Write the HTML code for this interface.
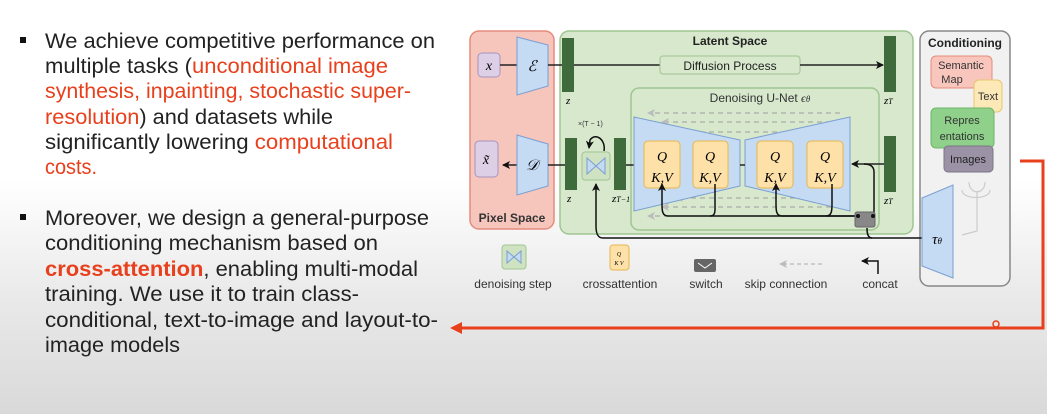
<!DOCTYPE html>
<html><head><meta charset="utf-8"><style>
html,body{margin:0;padding:0;}
body{width:1047px;height:414px;overflow:hidden;background:linear-gradient(#ffffff 0px,#ffffff 180px,#e9e9e9 300px,#d9d9d9 414px);}
svg{display:block;font-family:"Liberation Sans",sans-serif;}
.t{font-size:21px;fill:#222;}
.r{fill:#e8401c;}
.m{font-family:"Liberation Serif",serif;font-style:italic;}
</style></head><body>
<svg width="1047" height="414" viewBox="0 0 1047 414" xmlns="http://www.w3.org/2000/svg">
<defs>
<marker id="ah" markerWidth="8" markerHeight="8" refX="7" refY="4" orient="auto" markerUnits="userSpaceOnUse"><path d="M0,0 L8,4 L0,8 L2,4z" fill="#111"/></marker>
<marker id="ag" markerWidth="8" markerHeight="8" refX="7" refY="4" orient="auto" markerUnits="userSpaceOnUse"><path d="M0,0 L8,4 L0,8 L2,4z" fill="#bbb"/></marker>
</defs>
<rect x="20" y="37" width="6" height="6" fill="#111"/>
<rect x="20" y="214" width="6" height="6" fill="#111"/>
<g class="t">
<text x="45" y="48" textLength="390" lengthAdjust="spacingAndGlyphs">We achieve competitive performance on</text>
<text x="45" y="73" textLength="343" lengthAdjust="spacingAndGlyphs">multiple tasks (<tspan class="r">unconditional image</tspan></text>
<text x="45" y="98" textLength="366" lengthAdjust="spacingAndGlyphs" class="r">synthesis, inpainting, stochastic super-</text>
<text x="45" y="124" textLength="288" lengthAdjust="spacingAndGlyphs"><tspan class="r">resolution</tspan>) and datasets while</text>
<text x="45" y="149" textLength="348" lengthAdjust="spacingAndGlyphs">significantly lowering <tspan class="r">computational</tspan></text>
<text x="45" y="174" textLength="52" lengthAdjust="spacingAndGlyphs" class="r">costs.</text>
<text x="45" y="225" textLength="384" lengthAdjust="spacingAndGlyphs">Moreover, we design a general-purpose</text>
<text x="45" y="250" textLength="333" lengthAdjust="spacingAndGlyphs">conditioning mechanism based on</text>
<text x="45" y="276" textLength="373" lengthAdjust="spacingAndGlyphs"><tspan class="r" font-weight="bold">cross-attention</tspan>, enabling multi-modal</text>
<text x="45" y="301" textLength="314" lengthAdjust="spacingAndGlyphs">training. We use it to train class-</text>
<text x="45" y="327" textLength="393" lengthAdjust="spacingAndGlyphs">conditional, text-to-image and layout-to-</text>
<text x="45" y="352" textLength="135" lengthAdjust="spacingAndGlyphs">image models</text>
</g>
<rect x="470" y="31" width="84" height="198" rx="9" fill="#f6c5bc" stroke="#e58c7c" stroke-width="1.5"/>
<text x="512" y="222" font-size="12" font-weight="bold" text-anchor="middle" fill="#333">Pixel Space</text>
<rect x="560" y="31" width="353" height="203" rx="9" fill="#d7e8cd" stroke="#9fc591" stroke-width="1.5"/>
<text x="730" y="45" font-size="12" font-weight="bold" text-anchor="middle" fill="#222">Latent Space</text>
<rect x="920" y="31" width="90" height="255" rx="9" fill="#f1f1f1" stroke="#888" stroke-width="1.5"/>
<text x="965" y="47" font-size="12" font-weight="bold" text-anchor="middle" fill="#222">Conditioning</text>
<rect x="631" y="88" width="248" height="142" rx="8" fill="#d7e8cd" stroke="#9fc591" stroke-width="1.5"/>
<text x="760" y="102" font-size="12" text-anchor="middle" fill="#333">Denoising U-Net <tspan class="m">ϵ</tspan><tspan class="m" font-size="9">θ</tspan></text>
<rect x="478" y="53" width="22" height="24" rx="4" fill="#dccfe6" stroke="#a894be"/>
<text x="489" y="70" class="m" font-size="14" text-anchor="middle">x</text>
<line x1="500" y1="65" x2="517" y2="65" stroke="#222" stroke-width="1.5"/>
<path d="M517,37 L548,45 L548,86 L517,95z" fill="#c5daf3" stroke="#7a9fd0"/>
<text x="532" y="71" class="m" font-size="15" text-anchor="middle">ℰ</text>
<line x1="548" y1="65" x2="562" y2="65" stroke="#222" stroke-width="1.5"/>
<rect x="562" y="38" width="12" height="54" fill="#3e6a3c"/>
<text x="566" y="104" class="m" font-size="11">z</text>
<line x1="574" y1="65" x2="660" y2="65" stroke="#222" stroke-width="1.5"/>
<rect x="660" y="56" width="140" height="18" rx="3" fill="#d7e8cd" stroke="#9fc591"/>
<text x="730" y="70" font-size="12" text-anchor="middle" fill="#222">Diffusion Process</text>
<line x1="800" y1="65" x2="883" y2="65" stroke="#222" stroke-width="1.5" marker-end="url(#ah)"/>
<rect x="884" y="36" width="12" height="56" fill="#3e6a3c"/>
<text x="884" y="104" class="m" font-size="11">z<tspan font-size="8">T</tspan></text>
<rect x="475" y="141" width="23" height="36" rx="4" fill="#dccfe6" stroke="#a894be"/>
<text x="486" y="164" class="m" font-size="14" text-anchor="middle">x̃</text>
<line x1="517" y1="165" x2="503" y2="165" stroke="#222" stroke-width="1.5" marker-end="url(#ah)"/>
<path d="M517,135 L548,144 L548,186 L517,195z" fill="#c5daf3" stroke="#7a9fd0"/>
<text x="532" y="170" class="m" font-size="15" text-anchor="middle">𝒟</text>
<line x1="548" y1="165" x2="565" y2="165" stroke="#222" stroke-width="1.5"/>
<rect x="565" y="138" width="12" height="52" fill="#3e6a3c"/>
<text x="567" y="202" class="m" font-size="11">z</text>
<rect x="582" y="152" width="28" height="28" rx="3" fill="#cfe3c2" stroke="#9fc591"/>
<path d="M587,158 L596,166 L587,174z M605,158 L596,166 L605,174z" fill="#c5daf3" stroke="#7a9fd0"/>
<path d="M604,151 C606,140 596,132 590,140 L589,148" fill="none" stroke="#111" stroke-width="1.5" marker-end="url(#ah)"/>
<text x="578" y="126" font-size="7" fill="#333">×(T − 1)</text>
<rect x="614" y="138" width="12" height="52" fill="#3e6a3c"/>
<text x="612" y="202" class="m" font-size="11">z<tspan font-size="8">T−1</tspan></text>
<line x1="626" y1="165" x2="635" y2="165" stroke="#222" stroke-width="1.5"/>
<g stroke="#aaa" stroke-width="1.2" stroke-dasharray="5,4">
<line x1="840" y1="113" x2="648" y2="113" marker-end="url(#ag)"/>
<line x1="840" y1="122" x2="662" y2="122" marker-end="url(#ag)"/>
<line x1="840" y1="132" x2="676" y2="132" marker-end="url(#ag)"/>
<line x1="840" y1="198" x2="676" y2="198" marker-end="url(#ag)"/>
<line x1="840" y1="207" x2="662" y2="207" marker-end="url(#ag)"/>
<line x1="840" y1="216" x2="648" y2="216" marker-end="url(#ag)"/>
</g>
<path d="M634,117 L740,140 L740,186 L634,211z" fill="#c5daf3" stroke="#7a9fd0"/>
<path d="M745,140 L850,117 L850,211 L745,186z" fill="#c5daf3" stroke="#7a9fd0"/>
<line x1="740" y1="165" x2="745" y2="165" stroke="#222" stroke-width="1.5"/>
<g font-size="14" class="m" text-anchor="middle">
<rect x="644" y="141" width="36" height="47" rx="4" fill="#fde1a8" stroke="#e7b64e"/><text x="662" y="161">Q</text><text x="662" y="182">K,V</text>
<rect x="693" y="141" width="35" height="47" rx="4" fill="#fde1a8" stroke="#e7b64e"/><text x="710" y="161">Q</text><text x="710" y="182">K,V</text>
<rect x="757" y="141" width="36" height="47" rx="4" fill="#fde1a8" stroke="#e7b64e"/><text x="775" y="161">Q</text><text x="775" y="182">K,V</text>
<rect x="807" y="141" width="36" height="47" rx="4" fill="#fde1a8" stroke="#e7b64e"/><text x="825" y="161">Q</text><text x="825" y="182">K,V</text>
</g>
<rect x="884" y="136" width="12" height="56" fill="#3e6a3c"/>
<text x="884" y="204" class="m" font-size="11">z<tspan font-size="8">T</tspan></text>
<line x1="884" y1="164" x2="852" y2="164" stroke="#222" stroke-width="1.5" marker-end="url(#ah)"/>
<g fill="none" stroke="#111" stroke-width="1.5">
<path d="M858,216 L668,216 C662,216 662,210 662,204 L662,184" marker-end="url(#ah)"/>
<path d="M710,216 C716,216 715,210 715,204 L715,184"/>
<path d="M858,216 L782,216 C776,216 776,210 776,204 L776,184" marker-end="url(#ah)"/>
<path d="M826,216 C832,216 832,210 832,204 L832,184"/>
<path d="M874,216 L874,172 C874,166 870,164 864,164"/>
<path d="M922,238 L872,238 C868,238 867,234 867,228"/>
<path d="M872,238 L603,238 C597,238 596,232 596,226 L596,184" marker-end="url(#ah)"/>
</g>
<rect x="855" y="212" width="20" height="15" rx="2" fill="#888" stroke="#666"/>
<circle cx="858" cy="216" r="2" fill="#111"/><circle cx="873" cy="216" r="2" fill="#111"/>
<rect x="931" y="56" width="61" height="32" rx="5" fill="#f8c6bd" stroke="#e58c7c"/>
<text x="961" y="69" font-size="11" text-anchor="middle" fill="#333">Semantic</text>
<text x="952" y="83" font-size="11" text-anchor="middle" fill="#333">Map</text>
<rect x="974" y="80" width="28" height="32" rx="5" fill="#fde9b8" stroke="#e7c66e"/>
<text x="988" y="100" font-size="11" text-anchor="middle" fill="#333">Text</text>
<rect x="931" y="108" width="63" height="40" rx="5" fill="#8fd18a" stroke="#6fb46a"/>
<text x="962" y="124" font-size="11" text-anchor="middle" fill="#333">Repres</text>
<text x="962" y="140" font-size="11" text-anchor="middle" fill="#333">entations</text>
<rect x="944" y="146" width="49" height="26" rx="4" fill="#9b92a6" stroke="#7d7488"/>
<text x="968" y="163" font-size="11" text-anchor="middle" fill="#222">Images</text>
<path d="M969,182 C969,195 985,195 985,182 M977,192 L977,205 M962,190 C962,200 990,200 990,190 M977,205 L977,231 L962,235" fill="none" stroke="#ccc" stroke-width="1.2"/>
<path d="M922,198 L953,185 L953,278 L922,266z" fill="#c5daf3" stroke="#7a9fd0"/>
<text x="937" y="244" class="m" font-size="15" text-anchor="middle">τ<tspan font-size="9">θ</tspan></text>
<rect x="502" y="245" width="24" height="24" rx="3" fill="#cfe3c2" stroke="#9fc591"/>
<path d="M507,251 L514,257 L507,263z M521,251 L514,257 L521,263z" fill="#c5daf3" stroke="#7a9fd0"/>
<text x="513" y="288" font-size="12" text-anchor="middle" fill="#333">denoising step</text>
<rect x="610" y="245" width="19" height="25" rx="3" fill="#fde1a8" stroke="#e7b64e"/>
<text x="619" y="256" font-size="6" class="m" text-anchor="middle">Q</text><text x="619" y="265" font-size="6" class="m" text-anchor="middle">K V</text>
<text x="620" y="288" font-size="12" text-anchor="middle" fill="#333">crossattention</text>
<rect x="694" y="259" width="22" height="13" rx="2" fill="#666"/>
<path d="M698,263 L705,268 L712,263" stroke="#fff" fill="none"/>
<text x="706" y="288" font-size="12" text-anchor="middle" fill="#333">switch</text>
<line x1="822" y1="264" x2="780" y2="264" stroke="#aaa" stroke-dasharray="4,3" marker-end="url(#ag)"/>
<text x="786" y="288" font-size="12" text-anchor="middle" fill="#333">skip connection</text>
<path d="M878,274 L878,261 L862,261" fill="none" stroke="#111" stroke-width="1.5" marker-end="url(#ah)"/>
<text x="880" y="288" font-size="12" text-anchor="middle" fill="#333">concat</text>
<path d="M1020,161 L1043,161 L1043,328 L460,328" fill="none" stroke="#e8401c" stroke-width="3"/>
<path d="M450,328 L462,322 L462,334z" fill="#e8401c"/>
<circle cx="996" cy="324" r="3" fill="none" stroke="#e8401c" stroke-width="1.5"/>
</svg>
</body></html>
